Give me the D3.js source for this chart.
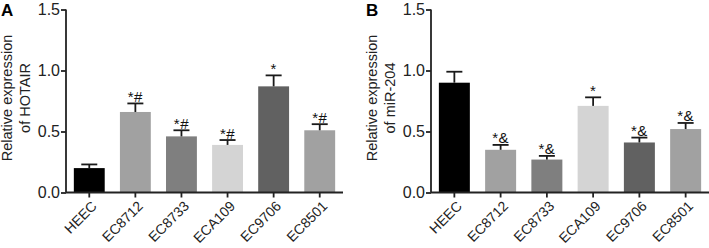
<!DOCTYPE html>
<html>
<head>
<meta charset="utf-8">
<script src="https://cdn.jsdelivr.net/npm/d3@7"></script>
<style>
  body { margin: 0; background: #fff; }
  svg { display: block; font-family: "Liberation Sans", Arial, sans-serif; }
</style>
</head>
<body>
<svg id="chart" width="709" height="248"></svg>
<script>
// cell lines shared by both panels
const cellLines = ["HEEC", "EC8712", "EC8733", "ECA109", "EC9706", "EC8501"]
const barColors = ["#000000", "#a1a1a1", "#7f7f7f", "#d4d4d4", "#616161", "#a1a1a1"]
const yTicks = [0.0, 0.5, 1.0, 1.5]

// panel A - HOTAIR
const hotairMean = [0.20, 0.66, 0.46, 0.39, 0.87, 0.51]
const hotairErr  = [0.03, 0.07, 0.05, 0.04, 0.09, 0.05]
const hotairMarks = ["", "*#", "*#", "*#", "*", "*#"]

// panel B - miR-204
const mirMean = [0.90, 0.35, 0.27, 0.71, 0.41, 0.52]
const mirErr  = [0.09, 0.04, 0.03, 0.07, 0.04, 0.05]
const mirMarks = ["", "*&", "*&", "*", "*&", "*&"]

const panels = [
  {letter: "A", left: 66, right: 343, title: ["Relative expression", "of HOTAIR"], mean: hotairMean, err: hotairErr, marks: hotairMarks},
  {letter: "B", left: 431, right: 709, title: ["Relative expression", "of miR-204"], mean: mirMean, err: mirErr, marks: mirMarks}
]

const svg = d3.select("#chart")
const yTop = 9.5, yBottom = 192.5

panels.forEach(function(p) {
  const g = svg.append("g")

  const x = d3.scaleBand().domain(cellLines).range([p.left, p.right]).paddingInner(0.33).paddingOuter(0.17)
  const y = d3.scaleLinear().domain([0, 1.5]).range([yBottom, yTop])

  // bars
  g.selectAll(".bar")
    .data(cellLines)
    .enter().append("rect")
    .attr("x", d => x(d))
    .attr("width", x.bandwidth())
    .attr("y", (d, i) => y(p.mean[i]))
    .attr("height", (d, i) => y(0) - y(p.mean[i]))
    .attr("fill", (d, i) => barColors[i])

  // error bars (upper only)
  const cx = d => x(d) + x.bandwidth() / 2
  g.selectAll(".errline")
    .data(cellLines)
    .enter().append("line")
    .attr("x1", cx).attr("x2", cx)
    .attr("y1", (d, i) => y(p.mean[i]))
    .attr("y2", (d, i) => y(p.mean[i] + p.err[i]))
    .attr("stroke", "#1a1a1a")
    .attr("stroke-width", 1.8)
  g.selectAll(".errcap")
    .data(cellLines)
    .enter().append("line")
    .attr("x1", d => cx(d) - 8).attr("x2", d => cx(d) + 8)
    .attr("y1", (d, i) => y(p.mean[i] + p.err[i]))
    .attr("y2", (d, i) => y(p.mean[i] + p.err[i]))
    .attr("stroke", "#1a1a1a")
    .attr("stroke-width", 1.8)

  // significance marks
  g.selectAll(".sig")
    .data(cellLines)
    .enter().append("text")
    .attr("x", cx)
    .attr("y", (d, i) => y(p.mean[i] + p.err[i]) - 1.5)
    .attr("text-anchor", "middle")
    .attr("font-size", 15)
    .attr("letter-spacing", 0.5)
    .attr("fill", "#111")
    .text((d, i) => p.marks[i])

  // y axis
  const yAxis = g.append("g")
    .attr("transform", "translate(" + p.left + ",0)")
    .call(d3.axisLeft(y).tickValues(yTicks).tickFormat(d3.format(".1f")).tickSize(5).tickPadding(1))
  yAxis.selectAll("path, line").attr("stroke", "#222").attr("stroke-width", 1.8)
  yAxis.select(".domain").attr("d", "M0," + yTop + "V" + yBottom)
  yAxis.selectAll("text").attr("font-size", 16).attr("fill", "#222").attr("font-family", "Liberation Sans, Arial, sans-serif")

  // x axis
  const xAxis = g.append("g")
    .attr("transform", "translate(0," + yBottom + ")")
    .call(d3.axisBottom(x).tickSize(5).tickSizeOuter(0))
  xAxis.selectAll("path, line").attr("stroke", "#222").attr("stroke-width", 1.8)
  xAxis.select(".domain").attr("d", "M" + p.left + ",0H" + p.right)
  xAxis.selectAll("text")
    .attr("font-size", 14)
    .attr("fill", "#222")
    .attr("font-family", "Liberation Sans, Arial, sans-serif")
    .attr("text-anchor", "end")
    .attr("dy", "0.35em")
    .attr("transform", "translate(5,11) rotate(-45)")
    .attr("y", 0)
    .attr("x", 0)

  // y title
  const tx = p.left - 51, ty = 98
  const title = g.append("text")
    .attr("transform", "translate(" + tx + "," + ty + ") rotate(-90)")
    .attr("text-anchor", "middle")
    .attr("font-size", 14.5)
    .attr("fill", "#222")
  title.append("tspan").attr("x", 0).attr("dy", -3).text(p.title[0])
  title.append("tspan").attr("x", 0).attr("dy", 18).text(p.title[1])

  // panel letter
  g.append("text")
    .attr("x", p.left - 65)
    .attr("y", 16)
    .attr("font-size", 17)
    .attr("font-weight", "bold")
    .text(p.letter)
})
</script>
</body>
</html>
